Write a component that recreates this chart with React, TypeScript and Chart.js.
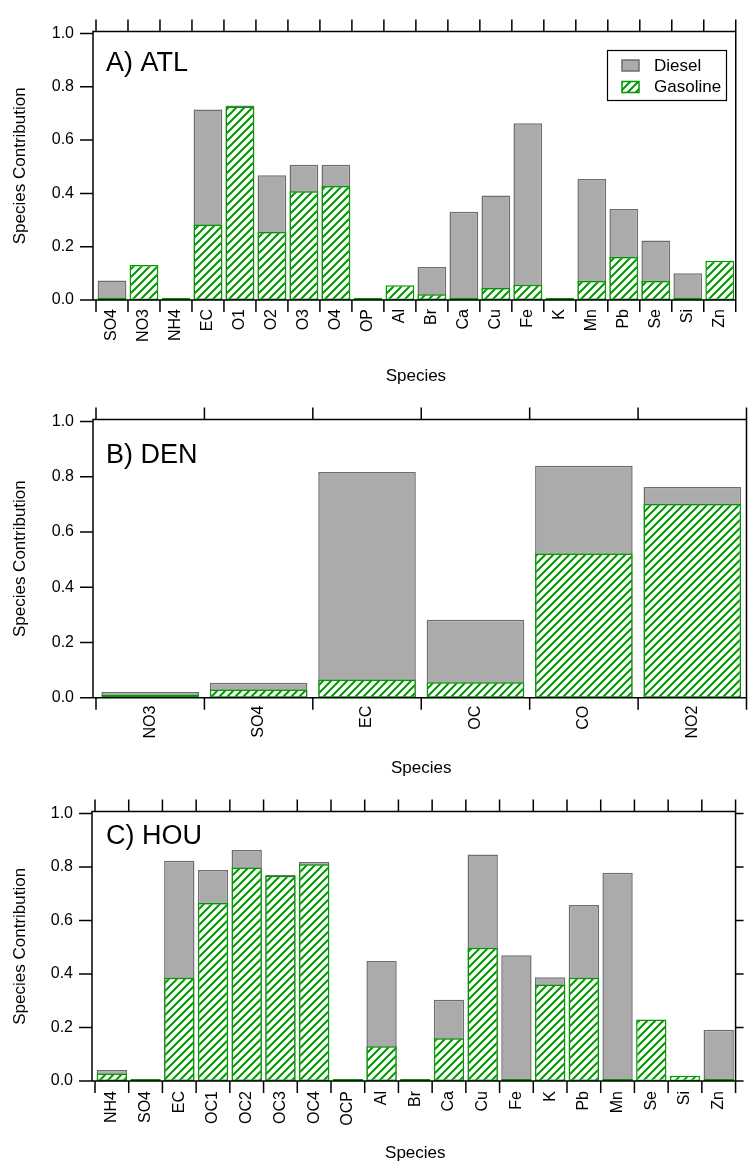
import React, { useEffect, useRef } from 'react';
import { Chart, registerables } from 'chart.js';

Chart.register(...registerables);

// ---------- data ----------
const atlSpecies = ['SO4', 'NO3', 'NH4', 'EC', 'O1', 'O2', 'O3', 'O4', 'OP', 'Al', 'Br', 'Ca', 'Cu', 'Fe', 'K', 'Mn', 'Pb', 'Se', 'Si', 'Zn'];
const atlDiesel = [0.073, 0, 0, 0.715, 0.73, 0.468, 0.507, 0.507, 0, 0, 0.124, 0.331, 0.392, 0.663, 0, 0.454, 0.341, 0.223, 0.1, 0];
const atlGasoline = [0, 0.131, 0, 0.283, 0.726, 0.255, 0.408, 0.428, 0, 0.055, 0.022, 0, 0.045, 0.057, 0, 0.071, 0.161, 0.071, 0, 0.147];

const denSpecies = ['NO3', 'SO4', 'EC', 'OC', 'CO', 'NO2'];
const denDiesel = [0.021, 0.054, 0.817, 0.282, 0.84, 0.763];
const denGasoline = [0.011, 0.03, 0.066, 0.056, 0.522, 0.701];

const houSpecies = ['NH4', 'SO4', 'EC', 'OC1', 'OC2', 'OC3', 'OC4', 'OCP', 'Al', 'Br', 'Ca', 'Cu', 'Fe', 'K', 'Pb', 'Mn', 'Se', 'Si', 'Zn'];
const houDiesel = [0.041, 0, 0.823, 0.789, 0.863, 0.77, 0.819, 0, 0.449, 0, 0.304, 0.847, 0.47, 0.388, 0.658, 0.778, 0, 0, 0.192];
const houGasoline = [0.028, 0, 0.386, 0.665, 0.798, 0.767, 0.81, 0, 0.13, 0, 0.16, 0.498, 0, 0.361, 0.386, 0, 0.23, 0.02, 0];

const yTicks = [0, 0.2, 0.4, 0.6, 0.8, 1.0];
const seriesLabels = ['Diesel', 'Gasoline'];
const panelTitles = ['A) ATL', 'B) DEN', 'C) HOU'];
const xTitle = 'Species';
const yTitle = 'Species Contribution';

// ---------- styles ----------
const FONT = '"Liberation Sans", Arial, Helvetica, sans-serif';
const GRAY = '#ababab';
const GRAY_BORDER = '#6e6e6e';
const GREEN = '#009a00';

const panels = [
  { title: panelTitles[0], labels: atlSpecies, diesel: atlDiesel, gasoline: atlGasoline, top: 0, height: 388, plotTop: 24.5, plotBottom: 300, plotLeft: 96, plotRight: 746.5, xLabelPad: 9, titleOffset: 76, titleBaseline: 71, legend: true, rightTicks: false },
  { title: panelTitles[1], labels: denSpecies, diesel: denDiesel, gasoline: denGasoline, top: 388, height: 392, plotTop: 28.7, plotBottom: 309.7, plotLeft: 96, plotRight: 746.5, xLabelPad: 8, titleOffset: 70.3, titleBaseline: 74.7, legend: false, rightTicks: false },
  { title: panelTitles[2], labels: houSpecies, diesel: houDiesel, gasoline: houGasoline, top: 780, height: 383, plotTop: 22, plotBottom: 301, plotLeft: 95, plotRight: 744.5, xLabelPad: 10, titleOffset: 72, titleBaseline: 64, legend: false, rightTicks: true },
];

function makeHatch(ctx: CanvasRenderingContext2D) {
  const s = 8;
  const c = document.createElement('canvas');
  c.width = s;
  c.height = s;
  const g = c.getContext('2d')!;
  g.fillStyle = '#ffffff';
  g.fillRect(0, 0, s, s);
  g.strokeStyle = GREEN;
  g.lineWidth = 2;
  g.beginPath();
  g.moveTo(0, s); g.lineTo(s, 0);
  g.moveTo(-s / 2, s / 2); g.lineTo(s / 2, -s / 2);
  g.moveTo(s / 2, s * 1.5); g.lineTo(s * 1.5, s / 2);
  g.stroke();
  return ctx.createPattern(c, 'repeat')!;
}

const framePlugin = {
  id: 'frame',
  afterDraw(chart: any, _args: any, opts: any) {
    const { ctx, chartArea: a } = chart;
    const x = chart.scales.x;
    const y = chart.scales.y;
    ctx.save();
    ctx.strokeStyle = '#000';
    ctx.lineWidth = 1.5;
    const ax = a.left - 3;
    ctx.beginPath();
    ctx.rect(ax, a.top, a.right - ax, a.bottom - a.top);
    // y ticks
    yTicks.forEach((v) => {
      const py = y.getPixelForValue(v);
      ctx.moveTo(ax - 13, py); ctx.lineTo(ax, py);
      if (opts.rightTicks) { ctx.moveTo(a.right, py); ctx.lineTo(a.right + 8, py); }
    });
    // category boundary ticks, top and bottom
    const n = chart.data.labels.length;
    for (let i = 0; i <= n; i++) {
      const px = x.getPixelForDecimal(i / n);
      ctx.moveTo(px, a.top - 12); ctx.lineTo(px, a.top);
      ctx.moveTo(px, a.bottom); ctx.lineTo(px, a.bottom + 12);
    }
    ctx.stroke();

    // panel title
    ctx.fillStyle = '#000';
    ctx.font = `27px ${FONT}`;
    ctx.textAlign = 'left';
    ctx.textBaseline = 'alphabetic';
    ctx.fillText(opts.title, 106, opts.titleBaseline);

    // legend
    if (opts.legend) {
      const ds = chart.data.datasets;
      ctx.lineWidth = 1.2;
      ctx.strokeStyle = '#000';
      ctx.strokeRect(607.5, 50.5, 119, 50);
      const rows = [
        { d: ds[0], y: 65 },
        { d: ds[1], y: 86.5 },
      ];
      rows.forEach((r) => {
        ctx.fillStyle = r.d.backgroundColor;
        ctx.fillRect(622, r.y - 5, 17, 11);
        ctx.strokeStyle = r.d.borderColor;
        ctx.lineWidth = 1.5;
        ctx.strokeRect(622, r.y - 5, 17, 11);
        ctx.fillStyle = '#000';
        ctx.font = `17px ${FONT}`;
        ctx.textBaseline = 'middle';
        ctx.fillText(r.d.label, 654, r.y + 1);
      });
    }
    ctx.restore();
  },
};

function Panel({ cfg }: { cfg: any }) {
  const ref = useRef<HTMLCanvasElement>(null);
  useEffect(() => {
    const canvas = ref.current!;
    const ctx = canvas.getContext('2d')!;
    const hatch = makeHatch(ctx);
    const xTitlePad = cfg.height - cfg.plotBottom - cfg.titleOffset - 10.2;
    const chart = new Chart(canvas, {
      type: 'bar',
      data: {
        labels: cfg.labels,
        datasets: [
          {
            label: seriesLabels[0],
            data: cfg.diesel,
            backgroundColor: GRAY,
            borderColor: GRAY_BORDER,
            borderWidth: 1.5,
            borderSkipped: false,
            order: 2,
            barPercentage: 0.9,
            categoryPercentage: 1,
          },
          {
            label: seriesLabels[1],
            data: cfg.gasoline,
            backgroundColor: hatch,
            borderColor: GREEN,
            borderWidth: 1.5,
            borderSkipped: false,
            order: 1,
            minBarLength: 2,
            barPercentage: 0.9,
            categoryPercentage: 1,
          },
        ],
      },
      options: {
        animation: false,
        responsive: false,
        maintainAspectRatio: false,
        layout: { padding: { left: 0, top: cfg.plotTop, right: 748 - cfg.plotRight, bottom: 0 } },
        plugins: {
          legend: { display: false },
          tooltip: { enabled: false },
          frame: { title: cfg.title, titleBaseline: cfg.titleBaseline, legend: cfg.legend, rightTicks: cfg.rightTicks },
        } as any,
        scales: {
          x: {
            stacked: true,
            offset: true,
            grid: { display: false, drawTicks: false, offset: true },
            border: { display: false },
            ticks: {
              autoSkip: false,
              maxRotation: 90,
              minRotation: 90,
              padding: cfg.xLabelPad,
              color: '#000',
              font: { family: FONT, size: 16 },
            },
            title: {
              display: true,
              text: xTitle,
              color: '#000',
              font: { family: FONT, size: 17 },
              padding: { top: 0, bottom: xTitlePad },
            },
            afterFit: (s: any) => { s.height = cfg.height - cfg.plotBottom; },
          },
          y: {
            stacked: false,
            min: 0,
            max: 1.007,
            afterBuildTicks: (s: any) => { s.ticks = yTicks.map((v) => ({ value: v })); },
            grid: { display: false, drawTicks: false },
            border: { display: false },
            ticks: {
              padding: 22,
              color: '#000',
              font: { family: FONT, size: 16 },
              callback: (v: any) => Number(v).toFixed(1),
            },
            title: {
              display: true,
              text: yTitle,
              color: '#000',
              font: { family: FONT, size: 17 },
              padding: { top: 10, bottom: 0 },
            },
            afterFit: (s: any) => { s.width = cfg.plotLeft; },
          },
        },
      } as any,
      plugins: [framePlugin],
    });
    return () => chart.destroy();
  }, [cfg]);
  return (
    <canvas
      ref={ref}
      width={748}
      height={cfg.height}
      style={{ position: 'absolute', left: 0, top: cfg.top, width: 748, height: cfg.height, display: 'block' }}
    />
  );
}

export default function App() {
  return (
    <div style={{ position: 'absolute', left: 0, top: 0, width: 748, height: 1163, background: '#fff', overflow: 'hidden' }}>
      {panels.map((p, i) => (
        <Panel key={i} cfg={p} />
      ))}
    </div>
  );
}
